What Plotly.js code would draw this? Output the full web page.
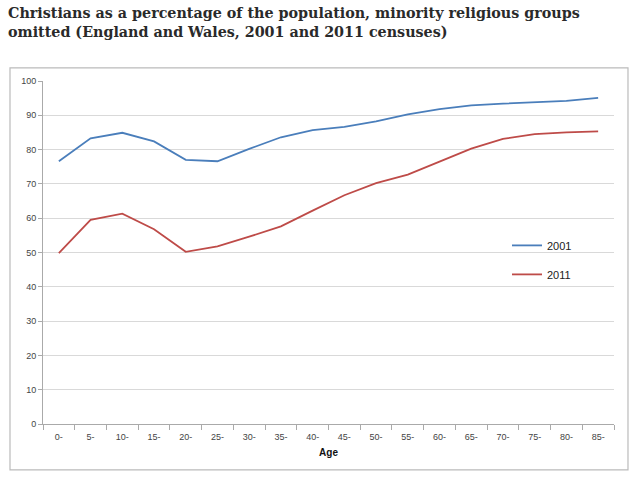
<!DOCTYPE html>
<html>
<head>
<meta charset="utf-8">
<script src="https://cdn.plot.ly/plotly-3.0.1.min.js"></script>
<style>
  body { margin: 0; background: #fff; }
  #chart { width: 640px; height: 480px; }
</style>
</head>
<body>
<div id="chart"></div>
<script>
// Age bands and Christian share (%) per census
var ages = ['0-', '5-', '10-', '15-', '20-', '25-', '30-', '35-', '40-', '45-',
            '50-', '55-', '60-', '65-', '70-', '75-', '80-', '85-'];
var pct2001 = [76.6, 83.3, 84.9, 82.4, 77.0, 76.6, 80.2, 83.6, 85.7, 86.6,
               88.2, 90.3, 91.8, 92.9, 93.4, 93.9, 94.2, 95.1];
var pct2011 = [49.8, 59.5, 61.3, 56.8, 50.2, 51.8, 54.6, 57.6, 62.2, 66.7,
               70.2, 72.7, 76.5, 80.3, 83.1, 84.5, 85.0, 85.3];
var seriesNames = ['2001', '2011'];
var yTicks = [0, 10, 20, 30, 40, 50, 60, 70, 80, 90, 100];

var data = [
    {
        x: ages,
        y: pct2001,
        name: seriesNames[0],
        type: 'scatter',
        mode: 'lines',
        legendgroup: 'a',
        line: {color: '#4a7ebb', width: 1.8}
    },
    {
        x: ages,
        y: pct2011,
        name: seriesNames[1],
        type: 'scatter',
        mode: 'lines',
        legendgroup: 'b',
        line: {color: '#be4b48', width: 1.8}
    }
];

var layout = {
    width: 640,
    height: 480,
    margin: {l: 43, r: 26, t: 81, b: 56},
    paper_bgcolor: '#ffffff',
    plot_bgcolor: '#ffffff',
    font: {family: 'Liberation Sans, Arial, sans-serif', size: 9, color: '#444'},
    title: {
        text: 'Christians as a percentage of the population, minority religious groups<br>omitted (England and Wales, 2001 and 2011 censuses)',
        x: 0.0125,
        xanchor: 'left',
        xref: 'container',
        yref: 'container',
        y: 0.962,
        yanchor: 'top',
        font: {family: 'DejaVu Serif, serif', size: 14.3, color: '#2a2a2a', weight: 'bold'}
    },
    xaxis: {
        type: 'category',
        range: [-0.5, 17.5],
        tickson: 'boundaries',
        ticks: 'outside',
        ticklen: 5,
        tickcolor: '#aaa',
        ticklabelstandoff: 4,
        showline: true,
        linecolor: '#aaa',
        showgrid: false,
        tickfont: {size: 9, color: '#444'},
        title: {text: 'Age', font: {size: 10, color: '#111', weight: 'bold'}, standoff: 8},
        fixedrange: true
    },
    yaxis: {
        range: [0, 100],
        tickvals: yTicks,
        ticks: 'outside',
        ticklen: 4,
        tickcolor: '#aaa',
        showline: true,
        linecolor: '#aaa',
        gridcolor: '#d9d9d9',
        zeroline: false,
        tickfont: {size: 9, color: '#444'},
        fixedrange: true
    },
    showlegend: true,
    legend: {
        x: 0.8126,
        y: 0.563,
        xanchor: 'left',
        yanchor: 'top',
        traceorder: 'grouped',
        tracegroupgap: 10,
        itemwidth: 30,
        bgcolor: 'rgba(0,0,0,0)',
        font: {size: 11, color: '#222', family: 'Liberation Sans, Arial, sans-serif'}
    },
    shapes: [
        {
            type: 'rect',
            xref: 'paper',
            yref: 'paper',
            x0: -0.0578,
            x1: 1.0245,
            y0: -0.134,
            y1: 1.038,
            line: {color: '#bbbbbb', width: 1.2},
            fillcolor: 'rgba(0,0,0,0)',
            layer: 'below'
        }
    ]
};

var config = {displayModeBar: false, staticPlot: true};

Plotly.newPlot('chart', data, layout, config);
</script>
</body>
</html>
